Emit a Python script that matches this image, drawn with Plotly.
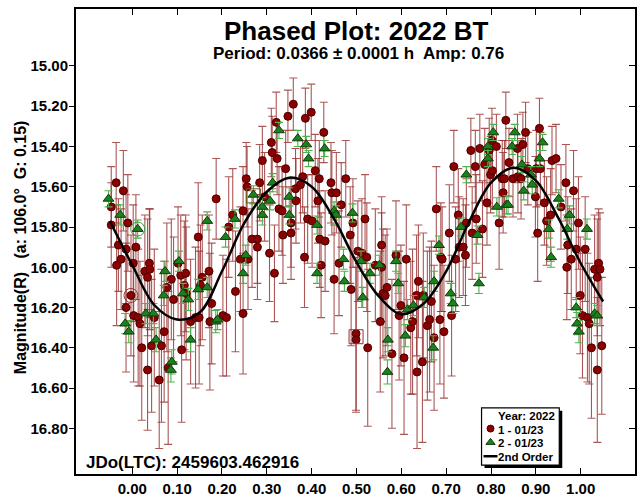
import plotly.graph_objects as go

# ---------------- data ----------------
# Session 1 (01/23): phase, reduced magnitude, 1-sigma error
red_phase = [
    -0.047, -0.047, -0.036, -0.020, -0.010, -0.031, -0.014, -0.025, -0.035, 0.008,
    0.002, -0.014, -0.003, 0.003, 0.013, 0.017, 0.028, 0.038, 0.039, 0.034,
    0.021, 0.034, 0.043, 0.049, 0.060, 0.065, 0.071, 0.077, 0.087, 0.092,
    0.102, 0.108, 0.119, 0.116, 0.110, 0.120, 0.130, 0.141, 0.147, 0.149,
    0.156, 0.171, 0.177, 0.173, 0.187, 0.202, 0.210, 0.080, 0.152,
    0.230, 0.215, 0.224, 0.241, 0.247, 0.247, 0.254, 0.256, 0.258, 0.267,
    0.279, 0.279, 0.284, 0.290, 0.295, 0.306, 0.310, 0.312, 0.317, 0.321,
    0.323, 0.327, 0.334, 0.336, 0.342, 0.347, 0.354, 0.354, 0.359, 0.364,
    0.365, 0.375, 0.380, 0.384, 0.386, 0.391, 0.399, 0.401, 0.408, 0.414,
    0.417, 0.418, 0.421, 0.427, 0.430, 0.443, 0.445, 0.455, 0.450, 0.461,
    0.466, 0.476,
    0.486, 0.488, 0.492, 0.499, 0.499, 0.503, 0.512, 0.519, 0.523, 0.525,
    0.542, 0.556, 0.556, 0.553, 0.559, 0.564, 0.568, 0.579, 0.588, 0.595,
    0.599, 0.606, 0.611, 0.621, 0.625, 0.634, 0.635, 0.638, 0.647, 0.649,
    0.658, 0.663, 0.667, 0.673, 0.678, 0.686, 0.688, 0.691, 0.695, 0.707,
    0.712, 0.717, 0.721, 0.727, 0.729, 0.738, 0.743, 0.745, 0.755, 0.758,
    0.765, 0.767,
    0.775, 0.781, 0.786, 0.791, 0.796, 0.799, 0.802, 0.803, 0.812, 0.818,
    0.825, 0.827, 0.830, 0.833, 0.840, 0.849, 0.859, 0.860, 0.867, 0.871,
    0.877, 0.882, 0.899, 0.901, 0.904, 0.908, 0.910, 0.919, 0.924, 0.933,
    0.936, 0.945, 0.956, 0.967, 0.969, 0.971, 0.979, 0.984, 0.990, 0.995,
    0.999, 1.004, 1.010, 1.015, 1.019, 1.024, 1.031, 1.037, 1.037, 1.040,
    1.043, 1.047,
]
red_mag = [
    15.70, 15.79, 15.58, 15.62, 15.78, 15.89, 15.91, 15.96, 15.99, 15.90,
    15.98, 16.20, 16.14, 16.24, 16.25, 16.28, 16.02, 15.98, 16.01, 16.05,
    16.40, 16.51, 16.39, 16.25, 16.56, 16.39, 16.32, 16.10, 16.06, 16.16,
    15.98, 16.04, 16.03, 16.09, 16.41, 16.13, 16.27, 16.25, 15.85, 16.25,
    16.05, 16.02, 16.18, 16.27, 15.66, 16.24, 16.25, 16.50, 16.09,
    16.12, 15.80, 15.74, 15.96, 16.23, 15.72, 15.56, 15.60, 15.96, 15.86,
    15.86, 15.90, 15.58, 15.47, 15.65, 15.93, 15.38, 15.43, 16.03, 15.28,
    15.46, 15.71, 15.72, 15.84, 15.51, 15.25, 15.78, 15.83, 15.19, 15.61,
    15.67, 15.59, 15.55, 15.95, 15.26, 15.76, 15.23, 15.77, 15.52, 15.67,
    15.56, 15.86, 15.99, 15.33, 15.87, 15.58, 15.63, 15.63, 16.06, 15.98,
    15.69, 15.56,
    15.84, 16.11, 15.78, 16.33, 16.36, 15.92, 15.93, 15.76, 15.95, 16.40,
    15.99, 16.00, 15.89, 16.27, 16.13, 16.14, 16.10, 16.43, 15.94, 16.24,
    16.19, 16.45, 15.96, 16.30, 16.27, 16.14, 16.52, 16.07, 16.47, 16.14,
    16.29, 16.26, 16.17, 16.35, 15.71, 16.26, 15.95, 15.96, 16.32, 15.83,
    16.24, 15.50, 15.96, 15.74, 15.90, 15.90, 15.94, 15.78, 15.42, 15.83,
    15.50, 15.76,
    15.41, 15.81, 15.49, 15.68, 15.42, 15.54, 15.37, 15.52, 15.40, 15.78,
    15.56, 15.63, 15.56, 15.27, 15.48, 15.56, 15.41, 15.55, 15.56, 15.39,
    15.33, 15.51, 15.65, 15.51, 15.83, 15.31, 15.51, 15.68, 15.77, 15.74,
    15.47, 15.46, 15.70, 15.58, 16.00, 15.89, 15.96, 15.62, 15.91, 15.78,
    16.14, 16.24, 15.91, 16.25, 16.28, 16.40, 16.01, 16.51, 16.05, 15.98,
    16.01, 16.39,
]
red_err = [
    0.20, 0.21, 0.20, 0.20, 0.24, 0.23, 0.27, 0.25, 0.30, 0.26,
    0.29, 0.32, 0.30, 0.33, 0.34, 0.31, 0.28, 0.27, 0.30, 0.29,
    0.36, 0.30, 0.33, 0.34, 0.34, 0.38, 0.35, 0.32, 0.30, 0.31,
    0.28, 0.30, 0.29, 0.32, 0.36, 0.33, 0.31, 0.35, 0.27, 0.33,
    0.31, 0.28, 0.30, 0.34, 0.20, 0.30, 0.29, 0.38, 0.30,
    0.30, 0.25, 0.23, 0.26, 0.30, 0.22, 0.18, 0.20, 0.25, 0.24,
    0.22, 0.26, 0.19, 0.17, 0.22, 0.24, 0.17, 0.18, 0.24, 0.15,
    0.18, 0.21, 0.22, 0.24, 0.19, 0.13, 0.22, 0.23, 0.13, 0.20,
    0.21, 0.19, 0.18, 0.25, 0.15, 0.22, 0.14, 0.23, 0.18, 0.21,
    0.19, 0.24, 0.26, 0.15, 0.25, 0.20, 0.21, 0.20, 0.27, 0.26,
    0.21, 0.19,
    0.24, 0.28, 0.22, 0.38, 0.36, 0.25, 0.27, 0.22, 0.27, 0.39,
    0.28, 0.27, 0.24, 0.35, 0.32, 0.30, 0.29, 0.37, 0.27, 0.32,
    0.30, 0.38, 0.27, 0.33, 0.36, 0.30, 0.38, 0.28, 0.40, 0.31,
    0.37, 0.36, 0.30, 0.36, 0.21, 0.32, 0.27, 0.26, 0.33, 0.24,
    0.30, 0.18, 0.26, 0.23, 0.25, 0.24, 0.25, 0.22, 0.16, 0.23,
    0.18, 0.22,
    0.17, 0.24, 0.18, 0.21, 0.16, 0.19, 0.16, 0.18, 0.16, 0.23,
    0.19, 0.20, 0.19, 0.14, 0.17, 0.19, 0.17, 0.18, 0.20, 0.16,
    0.15, 0.18, 0.20, 0.19, 0.24, 0.15, 0.18, 0.21, 0.22, 0.23,
    0.17, 0.17, 0.21, 0.19, 0.26, 0.24, 0.25, 0.20, 0.25, 0.23,
    0.29, 0.31, 0.26, 0.32, 0.30, 0.35, 0.27, 0.36, 0.29, 0.27,
    0.28, 0.34,
]

# Session 2 (01/23)
green_phase = [
    -0.053, -0.027, 0.012, -0.016, -0.008, 0.030, 0.047, 0.053, 0.070, 0.073,
    0.088, 0.086, 0.104, 0.113, 0.125, 0.130, 0.147, 0.167, 0.167, 0.186,
    0.208, 0.190,
    0.229, 0.253, 0.247, 0.270, 0.290, 0.290, 0.307, 0.313, 0.327, 0.350,
    0.350, 0.369, 0.388, 0.393, 0.412, 0.412, 0.429, 0.450, 0.454, 0.471,
    0.473,
    0.491, 0.510, 0.514, 0.530, 0.551, 0.570, 0.569, 0.588, 0.593, 0.609,
    0.614, 0.627, 0.651, 0.671, 0.673, 0.684, 0.710, 0.715, 0.733, 0.745,
    0.770,
    0.773, 0.793, 0.793, 0.805, 0.813, 0.834, 0.838, 0.847, 0.853, 0.869,
    0.873, 0.889, 0.892, 0.908, 0.915, 0.929, 0.934, 0.951, 0.975, 0.970,
    1.014, 0.990, 0.992, 0.996, 1.031, 1.037,
]
green_mag = [
    15.66, 15.74, 15.81, 16.28, 16.32, 16.23, 16.23, 16.36, 16.14, 16.02,
    16.47, 16.51, 15.97, 16.13, 16.16, 16.36, 16.11, 15.77, 16.10, 16.27,
    15.85, 16.26,
    15.76, 15.94, 16.03, 15.64, 15.70, 15.74, 15.67, 15.58, 15.32, 15.65,
    15.74, 15.36, 15.39, 15.46, 15.79, 16.03, 15.41, 15.72, 15.74, 15.96,
    16.07,
    15.73, 15.97, 16.15, 16.03, 15.99, 16.36, 16.52, 15.97, 16.08, 16.34,
    16.21, 16.19, 16.15, 16.40, 16.07, 15.89, 16.13, 16.18, 15.80, 15.54,
    15.84,
    16.08, 15.40, 15.46, 15.33, 15.70, 15.69, 15.69, 15.40, 15.33, 15.49,
    15.62, 15.54, 15.59, 15.46, 15.38, 15.81, 15.95, 15.66, 15.74, 15.81,
    15.81, 16.20, 16.28, 16.32, 16.23, 16.24,
]
green_err = [
    0.040, 0.050, 0.045, 0.050, 0.055, 0.050, 0.050, 0.060, 0.050, 0.050,
    0.060, 0.060, 0.050, 0.050, 0.055, 0.060, 0.050, 0.045, 0.050, 0.055,
    0.050, 0.050,
    0.045, 0.050, 0.050, 0.045, 0.045, 0.050, 0.045, 0.045, 0.040, 0.045,
    0.045, 0.040, 0.040, 0.040, 0.045, 0.050, 0.040, 0.045, 0.045, 0.050,
    0.050,
    0.045, 0.050, 0.050, 0.050, 0.050, 0.060, 0.060, 0.050, 0.050, 0.055,
    0.050, 0.050, 0.050, 0.060, 0.050, 0.045, 0.050, 0.050, 0.045, 0.040,
    0.045,
    0.050, 0.040, 0.040, 0.040, 0.045, 0.045, 0.045, 0.040, 0.040, 0.040,
    0.045, 0.040, 0.045, 0.040, 0.040, 0.045, 0.050, 0.045, 0.045, 0.050,
    0.050, 0.050, 0.055, 0.055, 0.050, 0.050,
]

# Marked (highlighted) observations
marked_red_phase = [-0.003, 0.499]
marked_red_mag = [16.14, 16.345]
marked_green_phase = [0.012, 0.270]
marked_green_mag = [15.81, 15.645]

# 2nd order Fourier fit, sampled along phase
curve_phase = [-0.05, 0.00, 0.05, 0.10, 0.15, 0.20, 0.25, 0.30, 0.35, 0.40, 0.45,
               0.50, 0.55, 0.60, 0.65, 0.70, 0.75, 0.80, 0.85, 0.90, 0.95, 1.00, 1.05]
curve_mag = [15.77, 15.99, 16.19, 16.26, 16.225, 16.02, 15.78, 15.625, 15.555, 15.60, 15.76,
             15.975, 16.145, 16.233, 16.18, 16.02, 15.78, 15.58, 15.506, 15.57, 15.755, 15.98, 16.17]

x_ticks = [0.0, 0.1, 0.2, 0.3, 0.4, 0.5, 0.6, 0.7, 0.8, 0.9, 1.0]
y_ticks = [15.0, 15.2, 15.4, 15.6, 15.8, 16.0, 16.2, 16.4, 16.6, 16.8]

# ---------------- styling ----------------
FONT = "Liberation Sans, Arial, sans-serif"
W, H = 640, 500
ML, MR, MT, MB = 76, 3, 9, 20
PW, PH = W - ML - MR, H - MT - MB
X_RANGE = [-0.1256, 1.1211]
Y_RANGE = [17.027, 14.717]

RED = "#8B0000"
RED_BAR = "rgba(150,45,45,0.8)"
GREEN = "#1C801C"
GREEN_BAR = "#4DB34D"


def paper_x(px):
    return (px - ML) / PW


def paper_y(py):
    return (MT + PH - py) / PH


fig = go.Figure()

fig.add_trace(go.Scatter(
    x=red_phase, y=red_mag, mode="markers", name="1 - 01/23",
    marker=dict(symbol="circle", size=8, color=RED, line=dict(color="#4a0000", width=1)),
    error_y=dict(type="data", array=red_err, color=RED_BAR, thickness=1.1, width=4),
    showlegend=False,
))
fig.add_trace(go.Scatter(
    x=green_phase, y=green_mag, mode="markers", name="2 - 01/23",
    marker=dict(symbol="triangle-up", size=9.5, color=GREEN, line=dict(color="#0b3d0b", width=1)),
    error_y=dict(type="data", array=green_err, color=GREEN_BAR, thickness=1.1, width=4),
    showlegend=False,
))
fig.add_trace(go.Scatter(
    x=marked_red_phase, y=marked_red_mag, mode="markers", hoverinfo="skip",
    marker=dict(symbol=["circle-open", "square-open"], size=14, color="#9a3030",
                line=dict(width=1)),
    showlegend=False,
))
fig.add_trace(go.Scatter(
    x=marked_green_phase, y=marked_green_mag, mode="markers", hoverinfo="skip",
    marker=dict(symbol=["circle-open", "square-open"], size=14, color=["#3aa03a", "#6b5a20"],
                line=dict(width=1)),
    showlegend=False,
))
fig.add_trace(go.Scatter(
    x=curve_phase, y=curve_mag, mode="lines", name="2nd Order",
    line=dict(color="black", width=2.5, shape="spline", smoothing=1.0),
    showlegend=False,
))

# Legend glyphs, placed on a hidden pixel-unit overlay axis
fig.add_trace(go.Scatter(
    x=[492], y=[434], mode="markers", xaxis="x2", yaxis="y2", hoverinfo="skip",
    marker=dict(symbol="circle", size=7, color=RED, line=dict(color="#4a0000", width=1)),
    showlegend=False,
))
fig.add_trace(go.Scatter(
    x=[492], y=[448], mode="markers", xaxis="x2", yaxis="y2", hoverinfo="skip",
    marker=dict(symbol="triangle-up", size=8, color=GREEN, line=dict(color="#0b3d0b", width=1)),
    showlegend=False,
))
fig.add_trace(go.Scatter(
    x=[485, 499], y=[462, 462], mode="lines", xaxis="x2", yaxis="y2", hoverinfo="skip",
    line=dict(color="black", width=2.5),
    showlegend=False,
))
# carrier for the right-hand tick axis
fig.add_trace(go.Scatter(x=[None], y=[None], yaxis="y3", showlegend=False, hoverinfo="skip"))

tick_font = dict(family=FONT, size=15, color="black", weight="bold")
legend_font = dict(family=FONT, size=11.5, weight="bold")

fig.update_layout(
    width=W, height=H,
    margin=dict(l=ML, r=MR, t=MT, b=MB, pad=0),
    paper_bgcolor="white", plot_bgcolor="white",
    font=dict(family=FONT, color="black"),
    xaxis=dict(
        range=X_RANGE, tickvals=x_ticks, tickformat=".2f",
        ticks="inside", ticklen=6, tickwidth=1, tickcolor="black",
        showline=True, linecolor="black", linewidth=2, mirror="ticks",
        showgrid=False, zeroline=False, tickfont=tick_font,
    ),
    yaxis=dict(
        range=Y_RANGE, tickvals=y_ticks, tickformat=".2f",
        ticks="outside", ticklen=5, tickwidth=1, tickcolor="black",
        showline=True, linecolor="black", linewidth=2, mirror=True,
        showgrid=False, zeroline=False, tickfont=tick_font,
        ticklabelstandoff=-2,
    ),
    yaxis3=dict(
        range=Y_RANGE, tickvals=y_ticks, overlaying="y", side="right", anchor="x",
        ticks="inside", ticklen=6, tickwidth=1, tickcolor="black",
        showticklabels=False, showline=False, showgrid=False, zeroline=False,
    ),
    xaxis2=dict(range=[ML, W - MR], overlaying="x", visible=False, fixedrange=True),
    yaxis2=dict(range=[MT + PH, MT], overlaying="y", visible=False, fixedrange=True),
    shapes=[
        # legend drop shadow and box
        dict(type="rect", xref="paper", yref="paper", layer="below",
             x0=paper_x(486), x1=paper_x(564), y0=paper_y(474), y1=paper_y(416),
             fillcolor="black", line=dict(width=0)),
        dict(type="rect", xref="paper", yref="paper", layer="below",
             x0=paper_x(483), x1=paper_x(561), y0=paper_y(471), y1=paper_y(413),
             fillcolor="white", line=dict(color="black", width=1.2)),
    ],
    annotations=[
        dict(text="Phased Plot: 2022 BT", xref="paper", yref="paper",
             x=paper_x(358), y=paper_y(31), xanchor="center", yanchor="middle",
             showarrow=False, font=dict(family=FONT, size=26, weight="bold")),
        dict(text="Period: 0.0366 ± 0.0001 h  Amp: 0.76", xref="paper", yref="paper",
             x=paper_x(360), y=paper_y(54), xanchor="center", yanchor="middle",
             showarrow=False, font=dict(family=FONT, size=17, weight="bold")),
        dict(text="JDo(LTC): 2459603.462916", xref="paper", yref="paper",
             x=paper_x(84), y=paper_y(468), xanchor="left", yanchor="middle",
             showarrow=False, font=dict(family=FONT, size=17, weight="bold")),
        dict(text="Magnitude(R)   (a: 106.0°  G: 0.15)", xref="paper", yref="paper",
             x=paper_x(21), y=paper_y(250), xanchor="center", yanchor="middle",
             textangle=-90, showarrow=False,
             font=dict(family=FONT, size=16, weight="bold")),
        # legend text
        dict(text="Year: 2022", xref="paper", yref="paper",
             x=paper_x(559), y=paper_y(421), xanchor="right", yanchor="middle",
             showarrow=False, font=legend_font),
        dict(text="1 - 01/23", xref="paper", yref="paper",
             x=paper_x(498), y=paper_y(435), xanchor="left", yanchor="middle",
             showarrow=False, font=legend_font),
        dict(text="2 - 01/23", xref="paper", yref="paper",
             x=paper_x(498), y=paper_y(449), xanchor="left", yanchor="middle",
             showarrow=False, font=legend_font),
        dict(text="2nd Order", xref="paper", yref="paper",
             x=paper_x(498), y=paper_y(463), xanchor="left", yanchor="middle",
             showarrow=False, font=legend_font),
    ],
)

fig.write_html("out.html")
